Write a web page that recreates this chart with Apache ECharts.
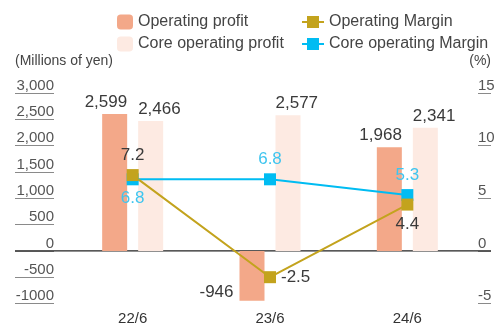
<!DOCTYPE html>
<html>
<head>
<meta charset="utf-8">
<script src="https://cdn.jsdelivr.net/npm/echarts@6/dist/echarts.min.js"></script>
<style>
  html, body { margin: 0; padding: 0; background: #fff; }
  #chart { width: 501px; height: 328px; }
</style>
</head>
<body>
<div id="chart"></div>
<script>
// Fiscal periods and figures
const categories = ['22/6', '23/6', '24/6'];
const operatingProfit = [2599, -946, 1968];
const coreOperatingProfit = [2466, 2577, 2341];
const operatingMargin = [7.2, -2.5, 4.4];
const coreOperatingMargin = [6.8, 6.8, 5.3];

// Axis tick labels (bottom to top)
const profitTickLabels = ['-1000', '-500', '0', '500', '1,000', '1,500', '2,000', '2,500', '3,000'];
const marginTickLabels = ['-5', '0', '5', '10', '15'];

// Where each margin label sits relative to its point
const operatingMarginLabelPos = ['top', 'right', 'bottom'];
const coreMarginLabelPos = ['bottom', 'top', 'top'];

const FONT = "'Liberation Sans', Arial, Helvetica, sans-serif";
const C_OP = '#F3A889';
const C_CORE = '#FDEAE2';
const C_OLIVE = '#C3A31D';
const C_BLUE = '#00BCF2';
const C_BLUE_TXT = '#3EC5EF';
const C_TXT = '#3a3a3a';

const chart = echarts.init(document.getElementById('chart'), null, { renderer: 'canvas' });

const fmtThousands = v => v.toLocaleString('en-US');

const opBarData = operatingProfit.map(v => ({
  value: v,
  label: v >= 0
    ? { position: ['100%', -3], align: 'right', verticalAlign: 'bottom' }
    : { position: [-6, '100%'], align: 'right', verticalAlign: 'bottom' }
}));

const coreBarData = coreOperatingProfit.map(v => ({
  value: v,
  label: { position: [0, -3], align: 'left', verticalAlign: 'bottom' }
}));

const opMarginData = operatingMargin.map((v, i) => ({
  value: v, label: { position: operatingMarginLabelPos[i] }
}));
const coreMarginData = coreOperatingMargin.map((v, i) => ({
  value: v, label: { position: coreMarginLabelPos[i] }
}));

const option = {
  animation: false,
  textStyle: { fontFamily: FONT },
  grid: { left: 64, right: 25, top: 93, bottom: 24.5, containLabel: false },
  legend: [
    {
      data: ['Operating profit', 'Core operating profit'],
      orient: 'vertical', left: 112, top: 9,
      itemWidth: 16, itemHeight: 15, itemGap: 6,
      textStyle: { fontSize: 16, color: '#444', fontFamily: FONT }
    },
    {
      data: ['Operating Margin', 'Core operating Margin'],
      orient: 'vertical', left: 296, top: 9,
      itemWidth: 22, itemHeight: 15, itemGap: 6,
      textStyle: { fontSize: 16, color: '#444', fontFamily: FONT }
    }
  ],
  xAxis: {
    type: 'category',
    data: categories,
    axisLine: { show: false, onZero: false },
    axisTick: { show: false },
    axisLabel: { color: '#333', fontSize: 15, margin: 8, fontFamily: FONT },
    splitLine: { show: false }
  },
  yAxis: [
    {
      type: 'value', min: -1000, max: 3000, interval: 500,
      position: 'left', offset: 10,
      axisLine: { show: false },
      axisTick: { show: true, length: 39, lineStyle: { color: '#8a8a8a', width: 1 } },
      axisLabel: {
        margin: 0, align: 'right', verticalAlign: 'bottom',
        color: '#555', fontSize: 15, fontFamily: FONT,
        formatter: (v, i) => profitTickLabels[i]
      },
      splitLine: { show: false }
    },
    {
      type: 'value', min: -5, max: 15, interval: 5,
      position: 'right', offset: 2,
      axisLine: { show: false },
      axisTick: { show: true, length: 13, lineStyle: { color: '#8a8a8a', width: 1 } },
      axisLabel: {
        margin: 0, align: 'left', verticalAlign: 'bottom',
        color: '#555', fontSize: 15, fontFamily: FONT,
        formatter: (v, i) => marginTickLabels[i]
      },
      splitLine: { show: false }
    }
  ],
  graphic: [
    { type: 'text', left: 15, top: 54, style: { text: '(Millions of yen)', font: '14px ' + FONT, fill: '#444' } },
    { type: 'text', right: 10, top: 54, style: { text: '(%)', font: '14px ' + FONT, fill: '#444' } }
  ],
  series: [
    {
      name: 'Operating profit', type: 'bar', yAxisIndex: 0,
      data: opBarData, barWidth: 25, barGap: '44%',
      itemStyle: { color: C_OP },
      label: { show: true, color: C_TXT, fontSize: 17, fontFamily: FONT, formatter: p => fmtThousands(p.value) }
    },
    {
      name: 'Core operating profit', type: 'bar', yAxisIndex: 0,
      data: coreBarData, barWidth: 25, barGap: '44%',
      itemStyle: { color: C_CORE },
      label: { show: true, color: C_TXT, fontSize: 17, fontFamily: FONT, formatter: p => fmtThousands(p.value) }
    },
    {
      name: 'Core operating Margin', type: 'line', yAxisIndex: 1,
      data: coreMarginData, symbol: 'rect', symbolSize: 12,
      lineStyle: { color: C_BLUE, width: 2 },
      itemStyle: { color: C_BLUE },
      label: { show: true, color: C_BLUE_TXT, fontSize: 17, fontFamily: FONT, distance: 5 }
    },
    {
      name: 'Operating Margin', type: 'line', yAxisIndex: 1,
      data: opMarginData, symbol: 'rect', symbolSize: 12,
      lineStyle: { color: C_OLIVE, width: 2 },
      itemStyle: { color: C_OLIVE },
      label: { show: true, color: C_TXT, fontSize: 17, fontFamily: FONT, distance: 5 }
    }
  ]
};

chart.setOption(option);

// Zero baseline, extended across the full width under both axes
const zeroY = chart.convertToPixel({ yAxisIndex: 0 }, 0);
chart.setOption({
  graphic: [
    { type: 'text', left: 15, top: 54, style: { text: '(Millions of yen)', font: '14px ' + FONT, fill: '#444' } },
    { type: 'text', right: 10, top: 54, style: { text: '(%)', font: '14px ' + FONT, fill: '#444' } },
    {
      type: 'line', z: 1,
      shape: { x1: 15, y1: zeroY, x2: 491, y2: zeroY },
      style: { stroke: '#222', lineWidth: 1.2 }
    }
  ]
});
</script>
</body>
</html>
